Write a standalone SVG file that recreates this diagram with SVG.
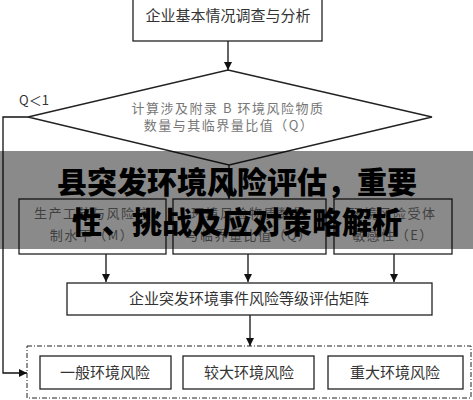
<svg xmlns="http://www.w3.org/2000/svg" width="473" height="400" viewBox="0 0 473 400">
<defs>
<marker id="ah" viewBox="0 0 10 10" refX="10" refY="5" markerWidth="8" markerHeight="8" markerUnits="userSpaceOnUse" orient="auto"><path d="M0,0 L10,5 L0,10 z" fill="#111"/></marker>
<style>
.box{fill:#fff;stroke:#222;stroke-width:1.3}
.t{font-family:"Noto Sans CJK SC","Noto Sans",sans-serif;font-size:15px;fill:#333;text-anchor:middle}
.g{font-family:"Noto Sans CJK SC","Noto Sans",sans-serif;font-size:13px;fill:#777;text-anchor:middle;letter-spacing:1.5px}
.c{fill:none;stroke:#111;stroke-width:1.3}
.ti{font-family:"Noto Sans CJK SC","Noto Sans",sans-serif;font-size:30px;font-weight:900;fill:#000;text-anchor:middle}
</style>
</defs>
<rect width="473" height="400" fill="#fff"/>
<g id="connectors">
<path class="c" d="M228,41 V70" marker-end="url(#ah)"/>
<path class="c" d="M229,165 V199" marker-end="url(#ah)"/>
<path class="c" d="M106,254 V282" marker-end="url(#ah)"/>
<path class="c" d="M248,254 V282" marker-end="url(#ah)"/>
<path class="c" d="M394,254 V282" marker-end="url(#ah)"/>
<path class="c" d="M250,315 V346" marker-end="url(#ah)"/>
<path class="c" d="M28,117 H3 V373 H27" marker-end="url(#ah)"/>
<text x="34" y="105" style="font-family:'Noto Sans CJK SC','Noto Sans',sans-serif;font-size:13px;fill:#333;text-anchor:middle">Q＜1</text>
</g>
<g id="n-survey">
<rect class="box" x="133" y="-1" width="189" height="42"/>
<text class="t" x="228" y="21">企业基本情况调查与分析</text>
</g>
<g id="n-q">
<polygon class="box" points="228,70 432,117 229,165 28,117"/>
<text class="g" x="228" y="113">计算涉及附录 B 环境风险物质</text>
<text class="g" x="229" y="130">数量与其临界量比值（Q）</text>
</g>
<g id="n-m">
<rect class="box" x="19" y="199" width="147" height="55"/>
<text class="g" x="92" y="218">生产工艺与风险控</text>
<text class="g" x="92" y="240">制水平（M）</text>
</g>
<g id="n-q2">
<rect class="box" x="173" y="199" width="153" height="55"/>
<text class="g" x="249" y="218">环境风险物质数量</text>
<text class="g" x="249" y="240">与临界量比值（Q）</text>
</g>
<g id="n-e">
<rect class="box" x="334" y="199" width="118" height="55"/>
<text class="g" x="393" y="218">环境风险受体</text>
<text class="g" x="393" y="240">敏感性（E）</text>
</g>
<g id="n-matrix">
<rect class="box" x="67" y="283" width="365" height="32"/>
<text class="t" x="249" y="304">企业突发环境事件风险等级评估矩阵</text>
</g>
<g id="n-levels">
<rect x="27" y="346" width="444" height="52" fill="#fff" stroke="#222" stroke-width="1" stroke-dasharray="5,2,1,2"/>
</g>
<g id="n-general">
<rect class="box" x="40" y="356" width="131" height="33"/>
<text class="t" x="105" y="378">一般环境风险</text>
</g>
<g id="n-larger">
<rect class="box" x="183" y="356" width="131" height="33"/>
<text class="t" x="249" y="378">较大环境风险</text>
</g>
<g id="n-major">
<rect class="box" x="328" y="356" width="135" height="33"/>
<text class="t" x="395" y="378">重大环境风险</text>
</g>
<g id="banner">
<rect x="0" y="151" width="473" height="98" fill="#000" fill-opacity="0.46"/>
<text class="ti" x="237" y="193">县突发环境风险评估，重要</text>
<text class="ti" x="237" y="233">性、挑战及应对策略解析</text>
</g>
</svg>
